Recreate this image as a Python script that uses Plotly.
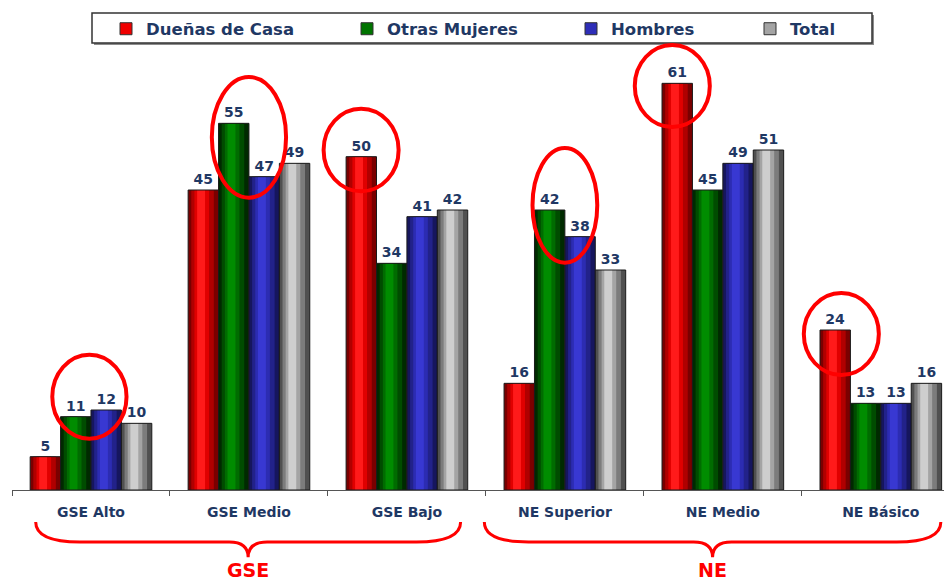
import plotly.graph_objects as go

categories = ["GSE Alto", "GSE Medio", "GSE Bajo", "NE Superior", "NE Medio", "NE Básico"]
series_names = ["Dueñas de Casa", "Otras Mujeres", "Hombres", "Total"]
duenas_de_casa = [5, 45, 50, 16, 61, 24]
otras_mujeres = [11, 55, 34, 42, 45, 13]
hombres = [12, 47, 41, 38, 49, 13]
total = [10, 49, 42, 33, 51, 16]
series_values = [duenas_de_casa, otras_mujeres, hombres, total]

group_labels = ["GSE", "NE"]
group_spans = [(-0.35, 2.34), (2.49, 5.38)]  # brace ends, in category units

# red rings: (category, x shift, centre value, width, height) in axis units
highlights = [
    (0, -0.01, 14.0, 0.47, 12.6),
    (1, 0.0, 52.9, 0.47, 18.1),
    (2, -0.29, 51.0, 0.475, 12.4),
    (3, 0.0, 42.7, 0.41, 17.2),
    (4, -0.32, 60.6, 0.475, 12.3),
    (5, -0.25, 23.4, 0.475, 12.3),
]

NAVY = "#1F3864"
RED = "#FF0000"
FONT = "DejaVu Sans"

# cylinder look: stacked strips from edge (dark) to centre (light)
shades = [
    ["#7A0000", "#B00000", "#E00000", "#FF1A1A"],
    ["#002A00", "#004C00", "#006C00", "#008C00"],
    ["#16165E", "#22228A", "#2C2CB2", "#3838D2"],
    ["#505050", "#7C7C7C", "#A4A4A4", "#CECECE"],
]
legend_colors = ["#F00000", "#007400", "#2E2EB8", "#A4A4A4"]
insets = [0.0, 0.13, 0.26, 0.37]
legend_text_px = [146, 387, 611, 790]

X_RANGE = [-0.5, 5.4]
Y_RANGE = [0, 67.5]
W, H = 944, 584
ML, MR, MT, MB = 12, 0, 40, 94
PW, PH = W - ML - MR, H - MT - MB
AXIS_Y = H - MB

group_w = 0.77
bar_w = group_w / len(series_names)


def paper_x(c):
    return (c - X_RANGE[0]) / (X_RANGE[1] - X_RANGE[0])


def paper_y(v):
    return (v - Y_RANGE[0]) / (Y_RANGE[1] - Y_RANGE[0])


def px_x(p):
    return (p - ML) / PW


def px_y(p):
    return (AXIS_Y - p) / PH


fig = go.Figure()
for i, (name, vals) in enumerate(zip(series_names, series_values)):
    off = -group_w / 2 + i * bar_w
    for inset, col in zip(insets, shades[i]):
        fig.add_trace(go.Bar(
            x=categories, y=vals,
            offset=off + inset * bar_w * 0.8,
            width=bar_w * (1 - 2 * inset),
            marker=dict(color=col, line=dict(width=0)),
            showlegend=False, hoverinfo="skip",
        ))
    fig.add_trace(go.Bar(
        x=categories, y=vals, offset=off, width=bar_w,
        marker=dict(color="rgba(0,0,0,0)", line=dict(width=1, color="#1A1A1A")),
        text=vals, textposition="outside",
        textfont=dict(family=FONT, size=14, color=NAVY, weight="bold"),
        cliponaxis=False, showlegend=False, name=name,
    ))
    legend_key = "legend" if i == 0 else f"legend{i + 1}"
    fig.add_trace(go.Bar(
        x=[None], y=[None], name=name,
        marker=dict(color=legend_colors[i], line=dict(width=1, color="#333333")),
        legend=legend_key,
    ))
    fig.update_layout({legend_key: dict(
        x=px_x(legend_text_px[i] - 40), y=px_y(29),
        xanchor="left", yanchor="middle", orientation="h",
        bgcolor="rgba(0,0,0,0)", borderwidth=0,
        font=dict(family=FONT, size=16.5, color=NAVY, weight="bold"),
    )})

shapes = []
# legend frame with shadow
lx0, lx1, ly0, ly1 = px_x(92), px_x(872), px_y(43), px_y(13)
sx, sy = 2 / PW, 2 / PH
shapes.append(dict(type="rect", xref="paper", yref="paper", x0=lx0 + sx, x1=lx1 + sx,
                   y0=ly0 - sy, y1=ly1 - sy, fillcolor="#8C8C8C", line=dict(width=0)))
shapes.append(dict(type="rect", xref="paper", yref="paper", x0=lx0, x1=lx1, y0=ly0, y1=ly1,
                   fillcolor="white", line=dict(width=1.5, color="#333333")))

for c, dx, v, w, h in highlights:
    shapes.append(dict(type="circle", xref="x", yref="y",
                       x0=c + dx - w / 2, x1=c + dx + w / 2, y0=v - h / 2, y1=v + h / 2,
                       line=dict(color=RED, width=4)))

top, mid, tip = -4.8, -7.8, -10.1
annotations = []
for label, (xl, xr) in zip(group_labels, group_spans):
    xm = (xl + xr) / 2
    d, dt = 0.28, 0.12
    X, Y = paper_x, paper_y
    path = (f"M{X(xl)},{Y(top)} Q{X(xl)},{Y(mid)} {X(xl + d)},{Y(mid)} "
            f"L{X(xm - dt)},{Y(mid)} Q{X(xm)},{Y(mid)} {X(xm)},{Y(tip)} "
            f"Q{X(xm)},{Y(mid)} {X(xm + dt)},{Y(mid)} "
            f"L{X(xr - d)},{Y(mid)} Q{X(xr)},{Y(mid)} {X(xr)},{Y(top)}")
    shapes.append(dict(type="path", xref="paper", yref="paper", path=path,
                       line=dict(color=RED, width=3)))
    annotations.append(dict(x=X(xm), y=0, xref="paper", yref="paper",
                            text=label, showarrow=False, xanchor="center", yanchor="bottom",
                            yshift=-(H - AXIS_Y) + 1,
                            font=dict(family=FONT, size=19, color=RED, weight="bold")))

fig.update_layout(
    width=W, height=H,
    margin=dict(l=ML, r=MR, t=MT, b=MB),
    barmode="overlay",
    plot_bgcolor="white", paper_bgcolor="white",
    shapes=shapes, annotations=annotations,
    xaxis=dict(range=X_RANGE, showline=True, linecolor="#555555", linewidth=1,
               ticks="outside", tickson="boundaries", ticklen=5, tickcolor="#555555",
               showgrid=False, ticklabelstandoff=9,
               tickfont=dict(family=FONT, size=14, color=NAVY, weight="bold")),
    yaxis=dict(range=Y_RANGE, visible=False, showgrid=False),
    showlegend=True,
)

# drop the default page margin so the figure fills the window exactly
fig.write_html("out.html", config={"displayModeBar": False},
               post_script="document.body.style.margin='0';"
                           "document.body.style.overflow='hidden';")
